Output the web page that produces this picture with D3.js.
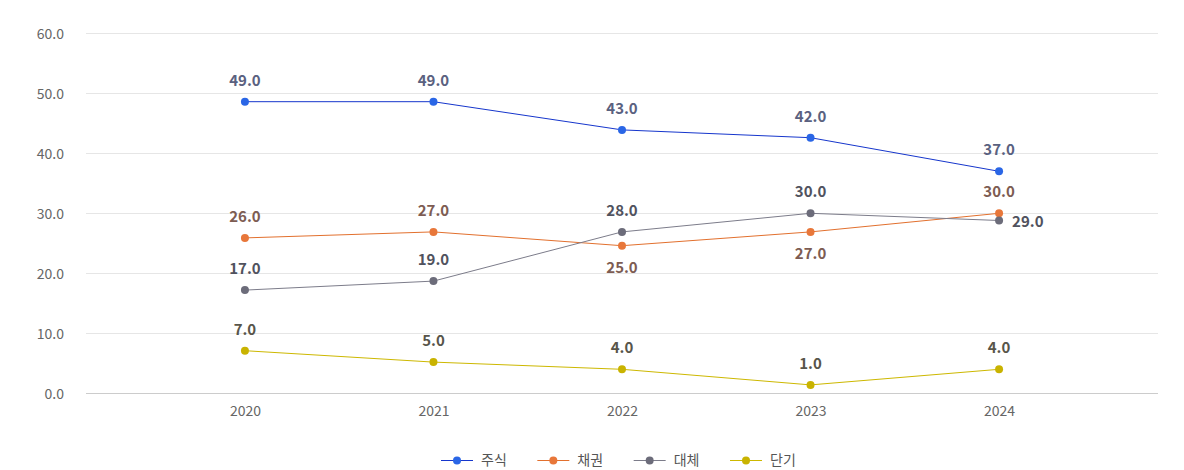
<!DOCTYPE html>
<html><head><meta charset="utf-8">
<script src="https://cdn.jsdelivr.net/npm/d3@7"></script>
<style>
html,body{margin:0;padding:0;background:#fff;}
svg{display:block;font-family:"Noto Sans CJK KR","Noto Sans",sans-serif;}
</style></head>
<body><svg id="c" width="1184" height="470"></svg>
<script>
const categories = ["2020","2021","2022","2023","2024"];
const seriesNames = ["주식","채권","대체","단기"];
const stockValues = [48.6, 48.6, 43.9, 42.6, 37.0];
const bondValues = [25.9, 26.9, 24.6, 26.9, 30.0];
const altValues = [17.2, 18.7, 26.9, 30.0, 28.8];
const cashValues = [7.1, 5.2, 4.0, 1.4, 4.0];
const stockLabels = ["49.0","49.0","43.0","42.0","37.0"];
const bondLabels = ["26.0","27.0","25.0","27.0","30.0"];
const altLabels = ["17.0","19.0","28.0","30.0","29.0"];
const cashLabels = ["7.0","5.0","4.0","1.0","4.0"];
const yTicks = [0,10,20,30,40,50,60];

(function(){
const styles = [
  {line:"#1636cc", dot:"#2a66e6", label:"#5a6180"},
  {line:"#e2702e", dot:"#e8773a", label:"#7d5c52"},
  {line:"#7c7c8a", dot:"#6c6c7a", label:"#50525e"},
  {line:"#cdb800", dot:"#c9b300", label:"#58554a"}
];
const placement = {"1-2":"bottom","1-3":"bottom","2-4":"right"};

const series = [
  {name:seriesNames[0], values:stockValues, labels:stockLabels},
  {name:seriesNames[1], values:bondValues, labels:bondLabels},
  {name:seriesNames[2], values:altValues, labels:altLabels},
  {name:seriesNames[3], values:cashValues, labels:cashLabels}
];

const svg = d3.select("#c");
const mLeft = 86, mRight = 1158, mTop = 33.3, mBottom = 393.3;
const x = d3.scalePoint().domain(categories).range([mLeft,mRight]).padding(0.843);
const y = d3.scaleLinear().domain([0,60]).range([mBottom,mTop]);

svg.append("g").selectAll("line").data(yTicks.filter(t=>t>0)).join("line")
  .attr("x1",mLeft).attr("x2",mRight)
  .attr("y1",d=>Math.round(y(d))+0.5).attr("y2",d=>Math.round(y(d))+0.5)
  .attr("stroke","#e6e6e6").attr("stroke-width",1);
svg.append("line").attr("x1",mLeft).attr("x2",mRight)
  .attr("y1",Math.round(y(0))+0.5).attr("y2",Math.round(y(0))+0.5)
  .attr("stroke","#cccccc");

const yAxis = d3.axisLeft(y).tickValues(yTicks).tickFormat(d3.format(".1f")).tickSize(0).tickPadding(0);
const yg = svg.append("g").attr("transform","translate(64,0)").call(yAxis);
yg.select(".domain").remove();
yg.selectAll("text").attr("fill","#666").style("font-size","14px").attr("dy","0.35em")
  .style("font-family","'Noto Sans CJK KR','Noto Sans',sans-serif");

const xAxis = d3.axisBottom(x).tickSize(0).tickPadding(0);
const xg = svg.append("g").attr("transform","translate(0,411)").call(xAxis);
xg.select(".domain").remove();
xg.selectAll("text").attr("fill","#666").style("font-size","14px").attr("dy","0.35em")
  .style("font-family","'Noto Sans CJK KR','Noto Sans',sans-serif");

const line = d3.line().x((d,i)=>x(categories[i])).y(d=>y(d));

series.forEach((s,si)=>{
  const g = svg.append("g");
  g.append("path").attr("d",line(s.values)).attr("fill","none")
    .attr("stroke",styles[si].line).attr("stroke-width",1);
  g.selectAll("circle").data(s.values).join("circle")
    .attr("cx",(d,i)=>x(categories[i])).attr("cy",d=>y(d)).attr("r",4)
    .attr("fill",styles[si].dot);
});
series.forEach((s,si)=>{
  const g = svg.append("g");
  g.selectAll("text").data(s.values).join("text")
    .each(function(d,i){
      const p = placement[si+"-"+i] || "top";
      const t = d3.select(this);
      const cx = x(categories[i]), cy = y(d);
      if(p==="top"){ t.attr("x",cx).attr("y",cy-16).attr("text-anchor","middle"); }
      else if(p==="bottom"){ t.attr("x",cx).attr("y",cy+27).attr("text-anchor","middle"); }
      else { t.attr("x",cx+13).attr("y",cy+6).attr("text-anchor","start"); }
    })
    .text((d,i)=>s.labels[i])
    .attr("fill",styles[si].label).style("font-size","15px").style("font-weight","600");
});

const lg = svg.append("g");
const legX = d3.scalePoint().domain(seriesNames).range([441,730]);
seriesNames.forEach((n,si)=>{
  const gx = legX(n);
  const g = lg.append("g").attr("transform",`translate(${gx},460)`);
  g.append("line").attr("x1",0).attr("x2",32).attr("y1",0.5).attr("y2",0.5)
    .attr("stroke",styles[si].line).attr("stroke-width",1);
  g.append("circle").attr("cx",16).attr("cy",0.5).attr("r",4).attr("fill",styles[si].dot);
  g.append("text").attr("x",40).attr("y",0).attr("dy","0.35em").text(n)
    .attr("fill","#555").style("font-size","14px");
});
})();
</script></body></html>
